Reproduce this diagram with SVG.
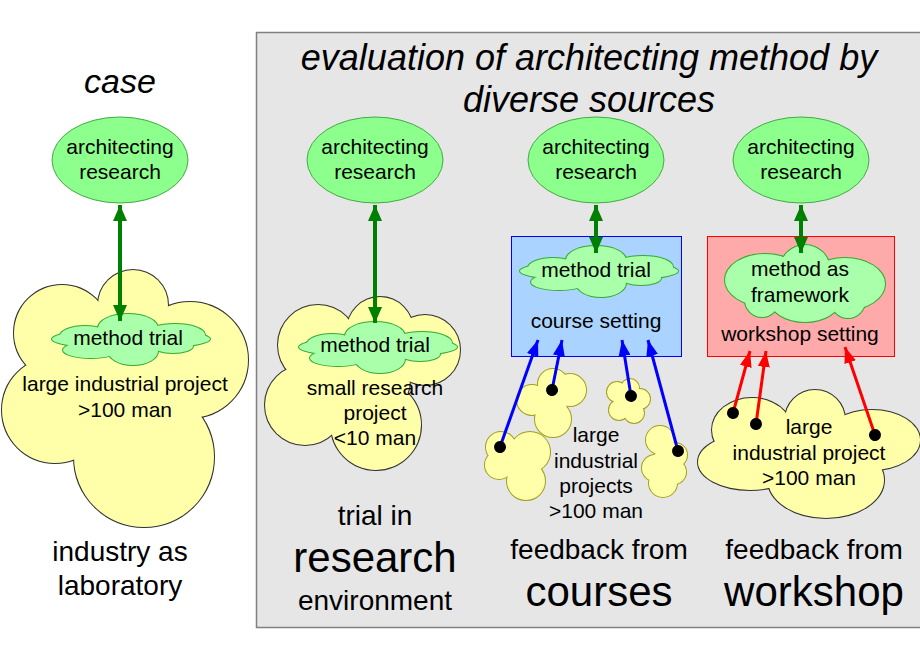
<svg xmlns="http://www.w3.org/2000/svg" xmlns:xlink="http://www.w3.org/1999/xlink" width="920" height="660" viewBox="0 0 920 660">
<style>
.t{font-family:"Liberation Sans",Arial,sans-serif;font-size:21px;text-anchor:middle;fill:#000}
.t28{font-size:28px}
.t42{font-size:42px}
.it{font-style:italic}
.ell{fill:#8cff8c;stroke:#44aa44;stroke-width:1}
.ys{fill:#ffffaa;stroke:#333;stroke-width:2}
.yo{fill:#ffffaa;stroke:#a0a020;stroke-width:2}
.yf{fill:#ffffaa;stroke:none}
.gs{fill:#aaffaa;stroke:#33aa33;stroke-width:2}
.gf{fill:#aaffaa;stroke:none}
.ga{stroke:#008000;stroke-width:4;fill:none}
.ba{stroke:#0000ff;stroke-width:3;fill:none}
.ra{stroke:#ff0000;stroke-width:3;fill:none}
</style>
<defs>
<marker id="ag" markerUnits="userSpaceOnUse" markerWidth="16" markerHeight="14" refX="16" refY="7" orient="auto-start-reverse"><path d="M0,0 L16,7 L0,14 z" fill="#008000"/></marker>
<marker id="ab" markerUnits="userSpaceOnUse" markerWidth="16" markerHeight="12" refX="16" refY="6" orient="auto"><path d="M0,0 L16,6 L0,12 z" fill="#0000ff"/></marker>
<marker id="ar" markerUnits="userSpaceOnUse" markerWidth="16" markerHeight="12" refX="16" refY="6" orient="auto"><path d="M0,0 L16,6 L0,12 z" fill="#ff0000"/></marker>
<marker id="dot" markerUnits="userSpaceOnUse" markerWidth="14" markerHeight="14" refX="7" refY="7" orient="auto"><circle cx="7" cy="7" r="6" fill="#000"/></marker>
<g id="mt">
<ellipse cx="0" cy="0" rx="79" ry="10"/>
<ellipse cx="-3" cy="-11" rx="30" ry="14"/>
<ellipse cx="44" cy="-4" rx="30" ry="11"/>
<ellipse cx="-46" cy="-3" rx="25" ry="10"/>
<ellipse cx="2" cy="12" rx="25" ry="14"/>
<ellipse cx="-40" cy="11" rx="28" ry="8"/>
<ellipse cx="42" cy="7" rx="20" ry="7"/>
</g>
<g id="bigL">
<circle cx="62" cy="333" r="48"/>
<circle cx="133" cy="305" r="35"/>
<circle cx="190" cy="360" r="58"/>
<circle cx="144" cy="457" r="70"/>
<circle cx="55" cy="410" r="53"/>
<circle cx="130" cy="390" r="60"/>
</g>
<g id="bigR">
<circle cx="380" cy="330" r="33"/>
<circle cx="318" cy="345" r="40"/>
<circle cx="425" cy="350" r="35"/>
<circle cx="305" cy="405" r="40"/>
<circle cx="376" cy="425" r="45"/>
<circle cx="370" cy="380" r="40"/>
</g>
<g id="bigW">
<ellipse cx="752" cy="430" rx="40" ry="32"/>
<circle cx="815" cy="420" r="30"/>
<ellipse cx="872" cy="440" rx="48" ry="30"/>
<ellipse cx="826" cy="480" rx="58" ry="38"/>
<ellipse cx="750" cy="462" rx="52" ry="28"/>
<circle cx="810" cy="455" r="35"/>
</g>
<g id="wmt">
<circle cx="805" cy="270" r="25"/>
<ellipse cx="765" cy="280" rx="40" ry="26"/>
<ellipse cx="845" cy="284" rx="40" ry="26"/>
<ellipse cx="805" cy="300" rx="35" ry="22"/>
<circle cx="762" cy="300" r="17"/>
<circle cx="848" cy="301" r="17"/>
<circle cx="805" cy="285" r="25"/>
</g>
<g id="sa">
<circle cx="501" cy="447" r="15"/>
<circle cx="530" cy="452" r="20"/>
<circle cx="526" cy="481" r="19"/>
<circle cx="499" cy="465" r="14"/>
<circle cx="518" cy="465" r="15"/>
</g>
<g id="sb">
<circle cx="553" cy="384" r="15"/>
<circle cx="532" cy="400" r="15"/>
<circle cx="570" cy="390" r="16"/>
<circle cx="553" cy="419" r="18"/>
<circle cx="552" cy="402" r="15"/>
</g>
<g id="sc">
<circle cx="617" cy="392" r="10"/>
<circle cx="630" cy="388" r="9"/>
<circle cx="640" cy="399" r="10"/>
<circle cx="634" cy="413" r="10"/>
<circle cx="619" cy="410" r="10"/>
<circle cx="628" cy="401" r="9"/>
</g>
<g id="sd">
<circle cx="660" cy="440" r="14"/>
<circle cx="675" cy="455" r="12"/>
<circle cx="655" cy="468" r="13"/>
<circle cx="663" cy="483" r="14"/>
<circle cx="674" cy="472" r="12"/>
<circle cx="664" cy="462" r="12"/>
</g>
</defs>

<g id="panel">
<rect x="256.5" y="32.5" width="666" height="595" fill="#e6e6e6" stroke="#808080" stroke-width="1.5"/>
<text class="t it" x="589" y="70" style="font-size:36px">evaluation of architecting method by</text>
<text class="t it" x="589" y="112" style="font-size:36px">diverse sources</text>
</g>

<g id="case">
<text class="t it" x="120" y="93" style="font-size:34px">case</text>
<g id="case-research"><ellipse class="ell" cx="120" cy="160" rx="68" ry="43"/>
<text class="t" x="120" y="154">architecting</text><text class="t" x="120" y="179">research</text></g>
<g id="case-project">
<use href="#bigL" class="ys"/><use href="#bigL" class="yf"/>
<text class="t" x="125" y="391">large industrial project</text>
<text class="t" x="125" y="417">&gt;100 man</text>
</g>
<g id="case-trial">
<use href="#mt" class="gs" transform="translate(131,339)"/><use href="#mt" class="gf" transform="translate(131,339)"/>
<text class="t" x="128" y="345">method trial</text>
</g>
<text class="t t28" x="120" y="561">industry as</text>
<text class="t t28" x="120" y="595">laboratory</text>
</g>

<g id="research-col">
<g id="res-research"><ellipse class="ell" cx="375" cy="160" rx="68" ry="43"/>
<text class="t" x="375" y="154">architecting</text><text class="t" x="375" y="179">research</text></g>
<g id="res-project">
<use href="#bigR" class="ys"/><use href="#bigR" class="yf"/>
<text class="t" x="375" y="395">small research</text>
<text class="t" x="375" y="420">project</text>
<text class="t" x="375" y="445">&lt;10 man</text>
</g>
<g id="res-trial">
<use href="#mt" class="gs" transform="translate(378,347)"/><use href="#mt" class="gf" transform="translate(378,347)"/>
<text class="t" x="375" y="352">method trial</text>
</g>
<text class="t t28" x="375" y="525">trial in</text>
<text class="t t42" x="375" y="572">research</text>
<text class="t t28" x="375" y="610">environment</text>
</g>

<g id="course-col">
<g id="crs-research"><ellipse class="ell" cx="596" cy="160" rx="68" ry="43"/>
<text class="t" x="596" y="154">architecting</text><text class="t" x="596" y="179">research</text></g>
<g id="crs-setting">
<rect x="511.5" y="236.5" width="170" height="120" fill="#aad4ff" stroke="#0000ff" stroke-width="1"/>
<text class="t" x="596" y="328">course setting</text>
</g>
<g id="crs-trial">
<use href="#mt" class="gs" transform="translate(599,271)"/><use href="#mt" class="gf" transform="translate(599,271)"/>
<text class="t" x="596" y="277">method trial</text>
</g>
<g id="crs-projects">
<use href="#sa" class="yo"/><use href="#sa" class="yf"/>
<use href="#sb" class="yo"/><use href="#sb" class="yf"/>
<use href="#sc" class="yo"/><use href="#sc" class="yf"/>
<use href="#sd" class="yo"/><use href="#sd" class="yf"/>
<text class="t" x="596" y="442">large</text>
<text class="t" x="596" y="468">industrial</text>
<text class="t" x="596" y="493">projects</text>
<text class="t" x="596" y="518">&gt;100 man</text>
</g>
<text class="t t28" x="599" y="559">feedback from</text>
<text class="t t42" x="599" y="606">courses</text>
</g>

<g id="workshop-col">
<g id="ws-research"><ellipse class="ell" cx="801" cy="160" rx="68" ry="43"/>
<text class="t" x="801" y="154">architecting</text><text class="t" x="801" y="179">research</text></g>
<g id="ws-setting">
<rect x="707.5" y="236.5" width="187" height="120" fill="#ffaaaa" stroke="#ff0000" stroke-width="1"/>
<text class="t" x="800" y="341">workshop setting</text>
</g>
<g id="ws-framework">
<use href="#wmt" class="gs"/><use href="#wmt" class="gf"/>
<text class="t" x="800" y="276">method as</text>
<text class="t" x="800" y="302">framework</text>
</g>
<g id="ws-project">
<use href="#bigW" class="ys"/><use href="#bigW" class="yf"/>
<text class="t" x="809" y="434">large</text>
<text class="t" x="809" y="460">industrial project</text>
<text class="t" x="809" y="485">&gt;100 man</text>
</g>
<text class="t t28" x="814" y="559">feedback from</text>
<text class="t t42" x="814" y="606">workshop</text>
</g>

<g id="connectors">
<line class="ga" x1="120" y1="205" x2="120" y2="321" marker-start="url(#ag)" marker-end="url(#ag)"/>
<line class="ga" x1="375" y1="205" x2="375" y2="323" marker-start="url(#ag)" marker-end="url(#ag)"/>
<line class="ga" x1="596" y1="205" x2="596" y2="253" marker-start="url(#ag)" marker-end="url(#ag)"/>
<line class="ga" x1="801" y1="205" x2="801" y2="253" marker-start="url(#ag)" marker-end="url(#ag)"/>
<line class="ba" x1="500" y1="447" x2="538" y2="340" marker-start="url(#dot)" marker-end="url(#ab)"/>
<line class="ba" x1="552" y1="390" x2="562" y2="340" marker-start="url(#dot)" marker-end="url(#ab)"/>
<line class="ba" x1="631" y1="396" x2="622" y2="340" marker-start="url(#dot)" marker-end="url(#ab)"/>
<line class="ba" x1="678" y1="451" x2="648" y2="340" marker-start="url(#dot)" marker-end="url(#ab)"/>
<line class="ra" x1="733" y1="413" x2="750" y2="351" marker-start="url(#dot)" marker-end="url(#ar)"/>
<line class="ra" x1="756" y1="424" x2="766" y2="351" marker-start="url(#dot)" marker-end="url(#ar)"/>
<line class="ra" x1="875" y1="435" x2="845" y2="347" marker-start="url(#dot)" marker-end="url(#ar)"/>
</g>
</svg>
